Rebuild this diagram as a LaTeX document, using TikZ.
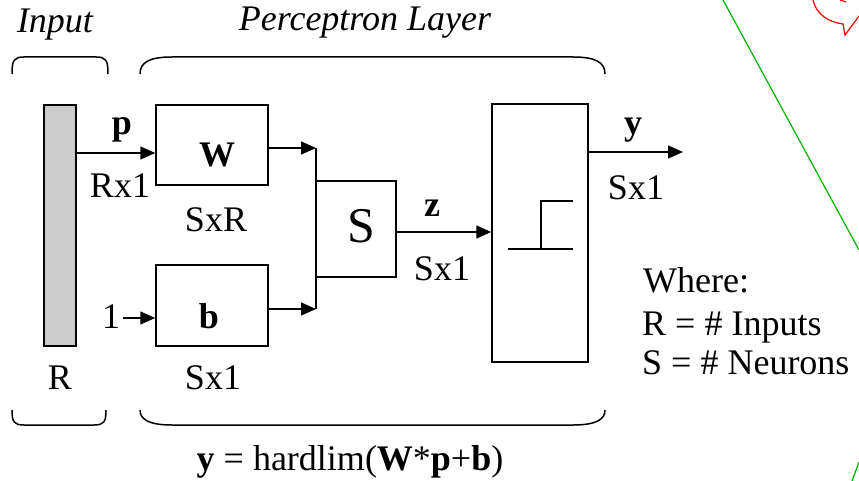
\documentclass[tikz,border=0pt]{standalone}
\usepackage{fontspec}
\setmainfont{Liberation Serif}
\usetikzlibrary{arrows.meta}
\tikzset{
	blk/.style={draw,line width=1.5pt,inner sep=0pt},
	wire/.style={line width=1.5pt},
	sig/.style={wire,-{Triangle[length=15pt,width=13pt]}},
	txt/.style={font=\fontsize{36}{40}\selectfont,inner sep=0pt,anchor=base},
	bld/.style={txt,font=\fontsize{36}{40}\selectfont\bfseries},
	hdr/.style={txt,font=\fontsize{36}{40}\selectfont\itshape},
	brc/.style={line width=1.5pt}
}

\begin{document}
\begin{tikzpicture}[x=1pt,y=-1pt]
	\useasboundingbox (0,0) rectangle (859,481);
	% blocks
	\node[blk,fill=black!20,minimum width=32pt,minimum height=241pt] (inp) at (60,225.5) {};
	\node[blk,minimum width=112pt,minimum height=80pt] (W) at (212,145) {};
	\node[blk,minimum width=112pt,minimum height=81pt] (b) at (212,305.5) {};
	\node[blk,minimum width=80pt,minimum height=96pt] (S) at (356,229) {};
	\node[blk,minimum width=96pt,minimum height=258pt] (hl) at (540,233) {};
	% levels of the wires
	\coordinate (py) at (0,153);
	\coordinate (wy) at (0,148);
	\coordinate (by) at (0,309);
	\coordinate (oy) at (0,318);
	\coordinate (zy) at (0,232);
	\coordinate (yy) at (0,152);
	\coordinate (j1) at (316,148);
	\coordinate (j2) at (316,309);
	\coordinate (yend) at (683,152);
	% texts
	\node[hdr] (tin) at (55,33) {Input};
	\node[hdr] (tpl) at (365,31) {Perceptron Layer};
	\node[bld] (tp) at (122,135) {p};
	\node[txt] (tRx) at (120,197) {Rx1};
	\node[bld] (tW) at (217,167) {W};
	\node[txt] (tSxR) at (216,232) {SxR};
	\node[txt] (tone) at (111,328) {1};
	\node[bld] (tb) at (209,328) {b};
	\node[txt] (tR) at (60,389) {R};
	\node[txt] (tSb) at (213,389) {Sx1};
	\node[txt,font=\fontsize{50}{54}\selectfont] (tS) at (361,242) {S};
	\node[bld] (tz) at (432,216) {z};
	\node[txt] (tSz) at (442,280) {Sx1};
	\node[bld] (ty) at (633,135) {y};
	\node[txt] (tSy) at (636,200) {Sx1};
	\node[txt,anchor=base west] (twh) at (643,292) {Where:};
	\node[txt,anchor=base west] (twR) at (642,335) {R = \# Inputs};
	\node[txt,anchor=base west] (twS) at (642,374) {S = \# Neurons};
	\node[txt] (tf) at (350,470) {\textbf{y} = hardlim(\textbf{W}*\textbf{p}+\textbf{b})};
	% wires
	\draw[sig] ([xshift=3pt]tone.east |- oy) -- (b.west |- oy);
	\draw[sig] (inp.east |- py) -- (W.west |- py);
	\draw[sig] (W.east |- wy) -- (j1);
	\draw[sig] (b.east |- by) -- (j2);
	\draw[wire] (j1) -- (j2);
	\draw[sig] (S.east |- zy) -- (hl.west |- zy);
	\draw[sig] (hl.east |- yy) -- (yend);
	% step inside the hardlim block
	\draw[wire] (508,249) -- (573,249) (541,249) -- (541,201) -- (573,201);
	% braces
	\draw[brc] (12,74) .. controls (12,60) and (14,57) .. (24,57) -- (96,57) .. controls (106,57) and (108,60) .. (108,74);
	\draw[brc] (140,74) .. controls (140,62) and (150,57) .. (172,57) -- (573,57) .. controls (595,57) and (605,62) .. (605,74);
	\draw[brc] (12,410) .. controls (12,422) and (14,425) .. (24,425) -- (94,425) .. controls (104,425) and (106,422) .. (106,410);
	\draw[brc] (140,410) .. controls (140,420) and (150,425) .. (172,425) -- (573,425) .. controls (595,425) and (605,420) .. (605,410);
	% clipped marks at the right edge
	\draw[line width=1.2pt,green!70!black] (723,0) -- (859,250) (852,481) -- (859,462);
	\draw[line width=1.2pt,red] (813,0) .. controls (816,14) and (828,22) .. (843,24) -- (845,35) -- (859,16) (840,0) -- (846,2);
\end{tikzpicture}
\end{document}
